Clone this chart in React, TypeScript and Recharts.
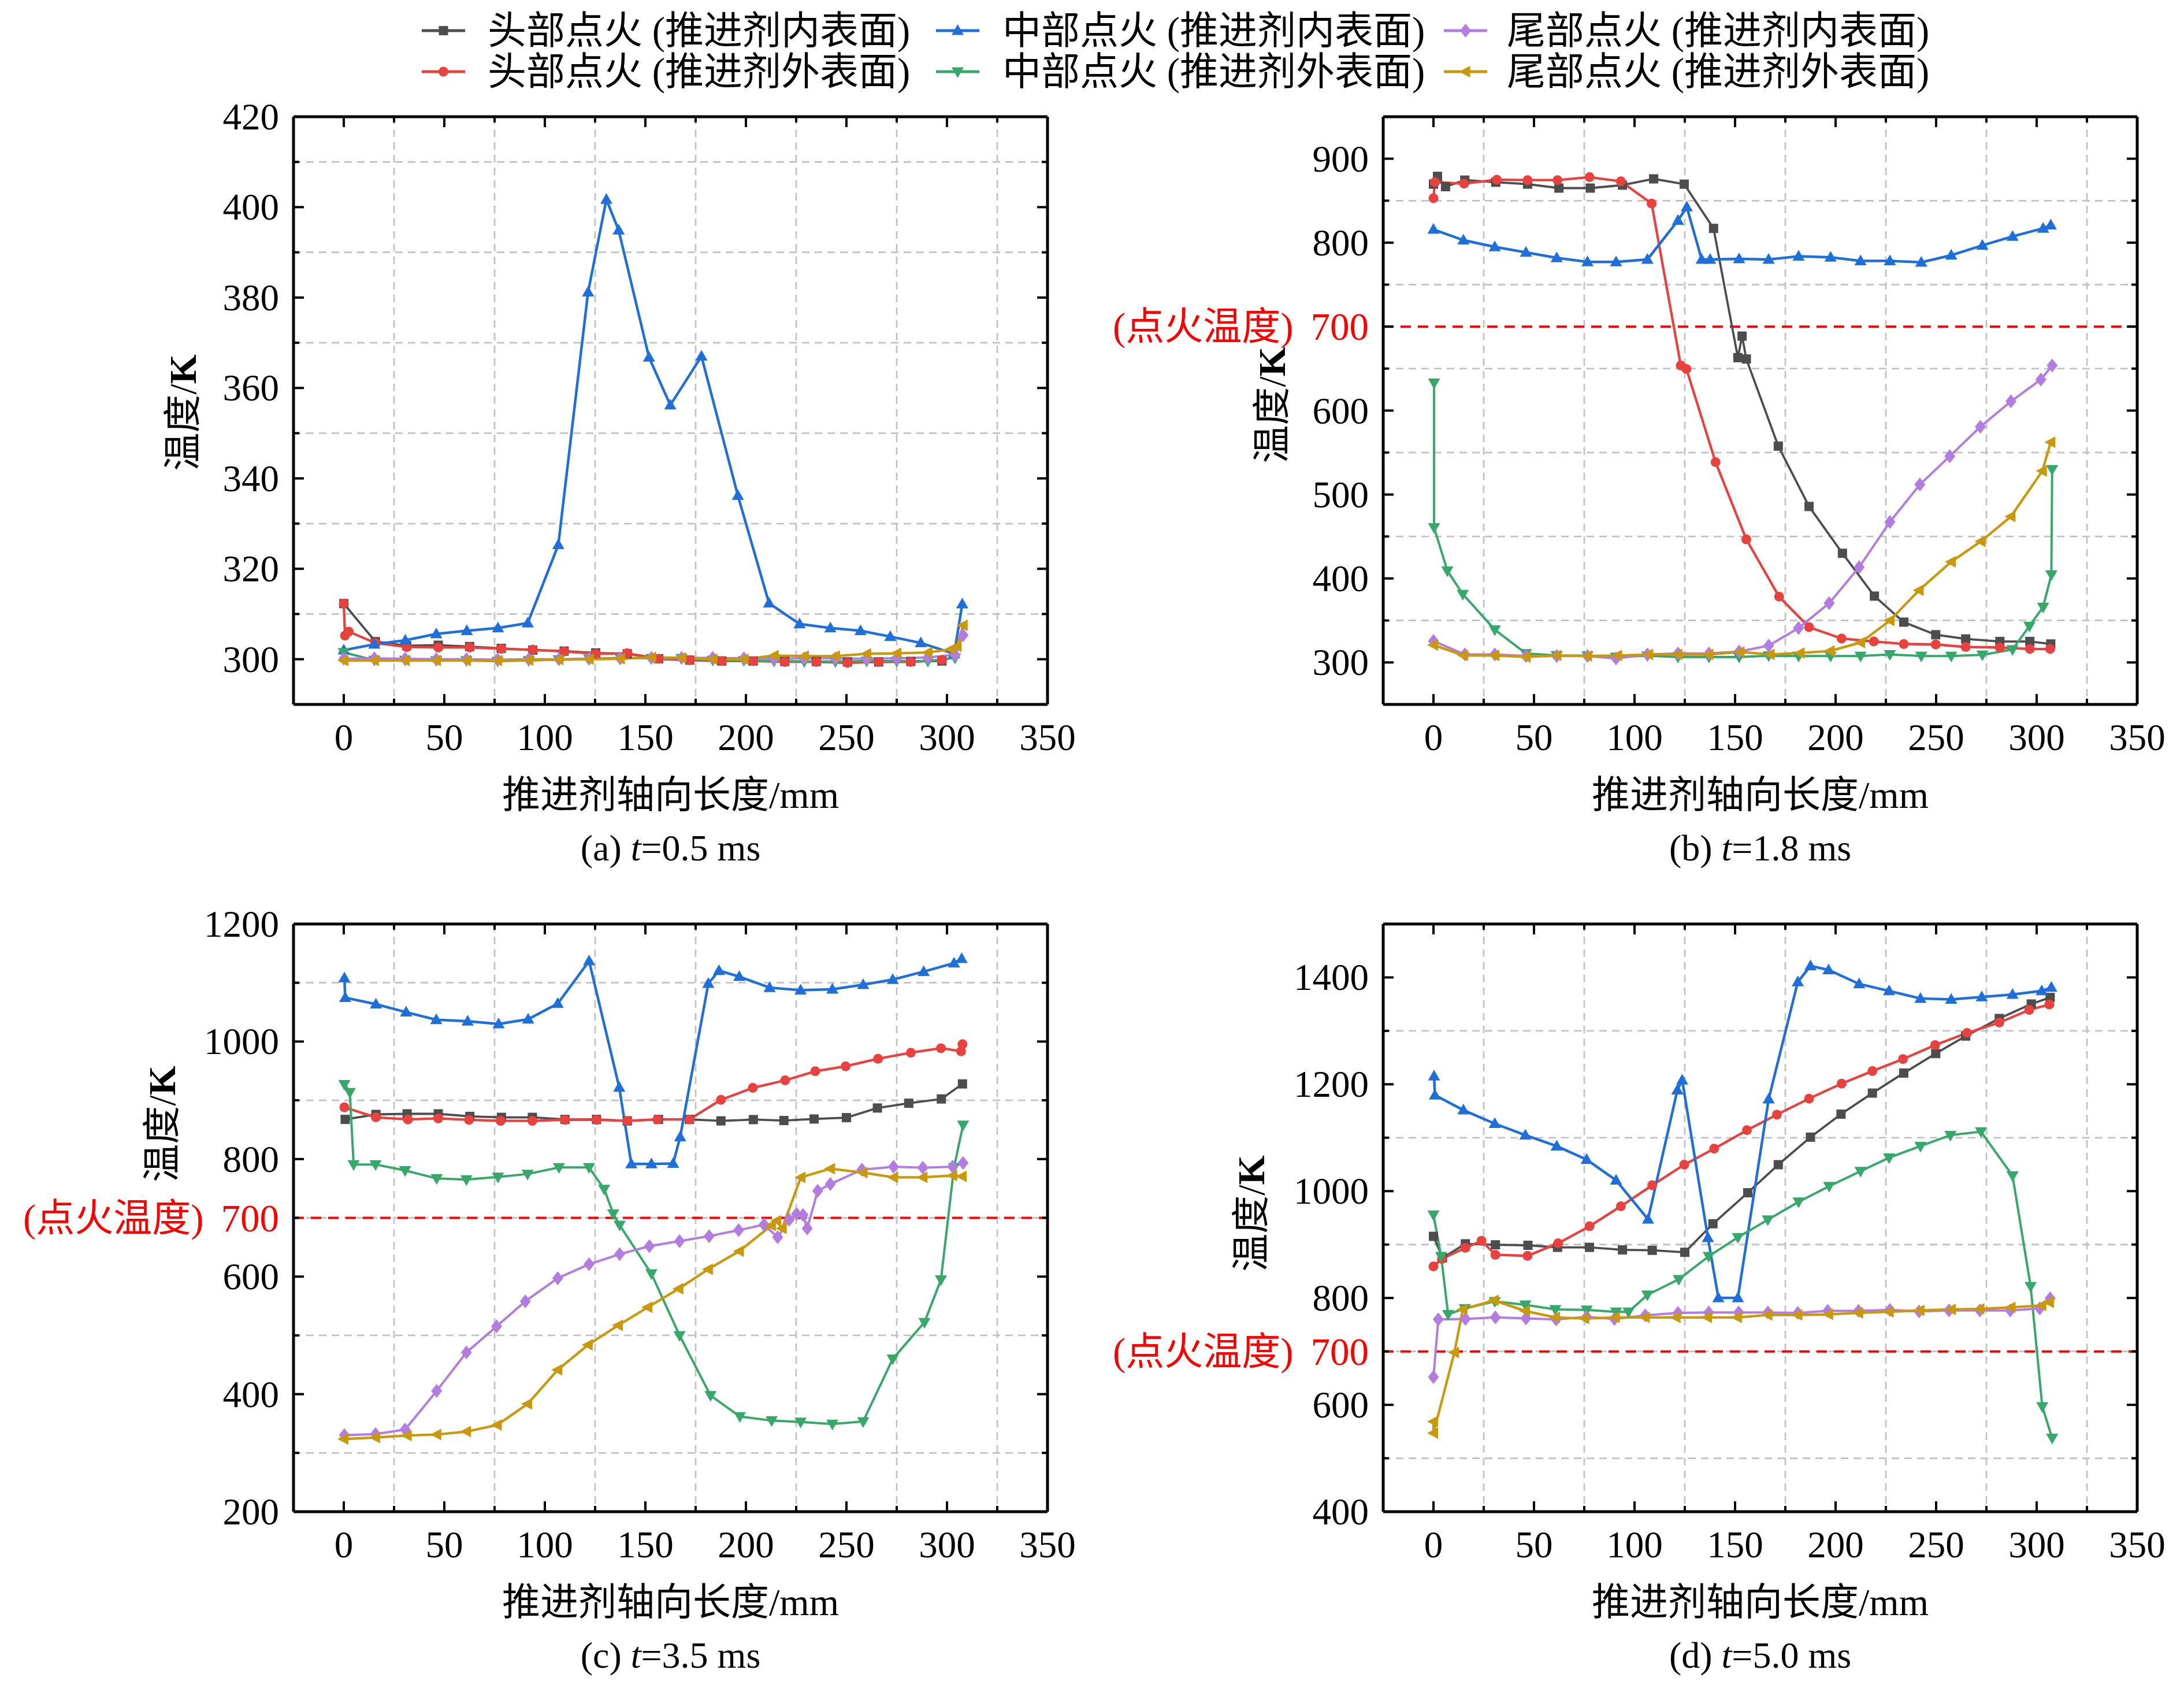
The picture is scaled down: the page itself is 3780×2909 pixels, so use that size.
import React from 'react';
import { LineChart, Line, XAxis, YAxis, CartesianGrid, ReferenceLine } from 'recharts';

type Pt = [number, number];

// ---------- shared axis values ----------
const xLabels = [0, 50, 100, 150, 200, 250, 300, 350];
const xMinor = [25, 75, 125, 175, 225, 275, 325];

const seriesNames = [
  '头部点火 (推进剂内表面)',
  '头部点火 (推进剂外表面)',
  '中部点火 (推进剂内表面)',
  '中部点火 (推进剂外表面)',
  '尾部点火 (推进剂内表面)',
  '尾部点火 (推进剂外表面)',
];
const seriesColors = ['#4d4d4d', '#e8413e', '#1f6fdb', '#36a96a', '#b27ce0', '#c9980b'];
const seriesShapes = ['square', 'circle', 'triUp', 'triDown', 'diamond', 'triLeft'];
const seriesWidths = [3.8, 4.3, 4.5, 4, 4, 4.3];

// ---------- panel (a) t=0.5 ms ----------
const aYLabels = [300, 320, 340, 360, 380, 400, 420];
const aYMinor = [310, 330, 350, 370, 390, 410];
const aHeadIn: Pt[] = [[0,312.3],[15.7,303.9],[31.3,303],[47,303.1],[62.6,302.8],[78.3,302.4],[94,302],[109.6,301.8],[125.3,301.4],[141,301.2],[156.6,300.1],[172,299.8],[188,299.6],[203.6,299.6],[219.3,299.5],[235,299.5],[250.5,299.4],[266,299.4],[282,299.5],[297.5,299.6]];
const aHeadOut: Pt[] = [[0,312.3],[0.6,305.2],[2.5,306.1],[15.7,303.6],[31.3,302.7],[47,302.6],[62.6,302.6],[78.3,302.3],[94,302.1],[109.6,301.7],[125.3,301.2],[141,301.3],[156.6,300.1],[172,299.8],[188,299.6],[203.6,299.6],[219.3,299.4],[235,299.4],[250.5,299.2],[266,299.4],[282,299.4],[297.5,299.8]];
const aMidIn: Pt[] = [[0,302],[15.2,303.3],[30.6,304.2],[46,305.6],[61.2,306.3],[76.7,306.9],[91.5,308],[106.7,325.3],[121.5,381.2],[130.6,401.7],[136.7,394.9],[151.8,366.8],[162.4,356.2],[177.9,367],[196,336.2],[211.5,312.4],[226.7,307.8],[242,306.9],[257,306.3],[271.8,305],[287,303.6],[303.6,301.2],[307.6,312.2]];
const aMidOut: Pt[] = [[0,301.5],[15.2,299.8],[30.5,299.8],[46,299.7],[61,299.7],[76.5,299.6],[92,299.7],[107,299.9],[122,300.1],[137.5,300.3],[153,300.2],[168,300.2],[183.5,299.8],[199,299.7],[214,299.6],[229,299.5],[244.5,299.5],[260,299.6],[275,299.6],[290.5,299.6],[304,300.3]];
const aTailIn: Pt[] = [[0,300.1],[15.2,300.2],[30.5,300.1],[46,300],[61,300],[76.5,299.9],[92,300],[107,300],[122,300.1],[137.5,300.2],[153,300.3],[168,300.3],[183.5,300.3],[199,300.2],[214,300.1],[229,300.2],[244.5,300.2],[260,300.1],[275,300.2],[290.5,300.4],[304,301],[308,305.3]];
const aTailOut: Pt[] = [[0,299.7],[15.2,299.7],[30.5,299.7],[46,299.7],[61,299.7],[76.5,299.7],[92,299.8],[107,299.9],[122,300],[137.5,300.1],[153,300.4],[168,300.3],[183.5,300],[199,300],[214,300.8],[229,300.7],[244.5,300.7],[260,301.2],[275,301.3],[290.5,301.5],[302,302.2],[305,302.8],[308,307.5]];

// ---------- panel (b) t=1.8 ms ----------
const bYLabels = [300, 400, 500, 600, 700, 800, 900];
const bYMinor = [350, 450, 550, 650, 750, 850];
const bHeadIn: Pt[] = [[0,869.7],[2,879],[6,866.7],[15.6,874.5],[31,872],[46.8,869.7],[62.4,865],[78,865],[94,868.5],[109.5,876],[124.7,869.7],[139.3,817],[151.4,663],[153.5,688.7],[155.6,661.4],[171.5,557.6],[186.8,485.8],[203.4,430],[219.3,379],[233.9,348],[249.8,333],[264.7,328],[281.7,325],[296.6,325],[307,322]];
const bHeadOut: Pt[] = [[0,853],[0.7,872],[15.2,870.3],[31.5,875],[46.8,874.5],[61.7,874.5],[77.6,878],[93.2,873],[108.5,846.6],[123,653.7],[125.8,649.6],[140.3,538.6],[155.6,446.6],[171.9,378.3],[186.8,342],[203,328.5],[219,325],[233.9,322],[249.8,321.4],[264.7,318.4],[281.7,317.8],[296.6,316],[306.7,316]];
const bMidIn: Pt[] = [[0,815.7],[14.9,803],[30.5,795],[46,788.4],[61.3,781.9],[76.6,777],[90.8,777],[106.4,780],[121.6,826.4],[126,842.4],[133.4,780],[137.6,780],[152,780.7],[166.7,780],[181.6,783.7],[197.5,782.5],[212.4,778.3],[227,778.3],[242.6,776.6],[257.5,785],[273,796.7],[288,807.4],[303.2,817],[307,821]];
const bMidOut: Pt[] = [[0.3,633],[0.3,460.8],[6.9,409.2],[14.6,381.3],[30.5,339],[46,310.7],[61.3,308.3],[76.6,308],[90.8,306.5],[106.4,308],[121.6,306.5],[137,306.5],[152,306.5],[166.7,308],[181.6,307.7],[197.5,307.7],[212.4,307.7],[227,309.5],[242.6,307.7],[257.5,307.7],[273,309],[288,315.4],[296.4,343.3],[303.2,366],[307.3,404.5],[307.7,530]];
const bTailIn: Pt[] = [[0,325.5],[15.6,309.5],[30.5,309.5],[46,307.7],[61.3,307.7],[76.6,307.7],[90.8,304.7],[106.4,309.5],[121.6,310.7],[137,310.7],[152,313],[166.7,320],[181.6,341],[196.8,370.6],[211.7,413.4],[227,467.4],[241.9,511.9],[256.8,545.7],[272,580.7],[287.2,611],[302.1,637],[307.7,653.7]];
const bTailOut: Pt[] = [[0,320.8],[14.9,308.3],[30.5,308.3],[46,306.5],[61.3,308.3],[76.6,307.7],[91.5,308.3],[107,309.5],[121.6,309.5],[136.9,309.5],[152.4,312.5],[167.4,309.5],[182.3,311.3],[197.2,313.6],[212.4,323.7],[227,349.9],[241.5,386],[257.5,419.9],[272.3,444.2],[287.2,473.9],[302.8,528],[307,562.3]];

// ---------- panel (c) t=3.5 ms ----------
const cYLabels = [200, 400, 600, 700, 800, 1000, 1200];
const cYMajor = [200, 400, 600, 800, 1000, 1200];
const cYMinor = [300, 500, 700, 900, 1100];
const cHeadIn: Pt[] = [[0.7,867.5],[16,876],[31.5,877],[47,877],[62.7,872.6],[78.4,871],[93.8,871],[110,867.5],[125.7,867.5],[141,865],[156.5,867.5],[171.9,867.5],[187.6,865],[203.7,867.2],[218.9,865.6],[233.9,868.2],[250,870.5],[265.4,886.9],[281,895],[297.2,902.3],[307.7,927.9]];
const cHeadOut: Pt[] = [[0.3,888],[16,871],[31.9,867.5],[47,869.2],[62.3,866.7],[78,865],[93.8,865],[110,866.7],[125.7,866.7],[141,865],[156,867.5],[171.9,867.5],[187.6,900.8],[203.4,921.2],[219.5,934],[234.5,949.4],[249.6,957.9],[265.7,970.7],[282,981],[297,988.6],[307,983.5],[307.7,995.4]];
const cMidIn: Pt[] = [[0.3,1108],[0.7,1074.7],[16,1063.6],[31,1050],[46,1037],[61.6,1034.6],[77,1030],[91.7,1038],[106.4,1064.5],[122,1137],[137,922],[143,791.6],[153,791.6],[163.8,792.5],[167.3,837.7],[181.3,1098.6],[186.6,1120.7],[196.7,1110.5],[211.8,1091.7],[227.2,1087.5],[243,1089],[258.3,1096.8],[273,1105.4],[288.4,1119],[303.5,1133.5],[307.3,1141]];
const cMidOut: Pt[] = [[0.3,927.2],[3,913.6],[4.9,790.8],[15.8,790.8],[30.5,780.6],[46.2,767],[61,765.2],[76.7,769.5],[91.4,774.6],[107,785.7],[122,785.7],[129.5,749],[134,707.2],[137.2,687.6],[153,605],[167,500],[182.4,397.8],[197,362],[212.8,355],[227.2,352.6],[243,349.2],[258.3,353.5],[273,460],[288.8,522.2],[297,594.7],[303.5,785.7],[308,858]];
const cTailIn: Pt[] = [[0.3,330.4],[15.8,332],[30.5,339.8],[46.2,405.5],[61,471],[76,515.4],[90.3,558],[106.4,597.3],[122,621],[137.2,638.2],[152,651.8],[167,660.4],[181.7,668.9],[196.4,679],[209,688.5],[215.8,667],[221.5,696.7],[225.2,706.6],[228.4,705],[230.5,682],[235.7,745.9],[242,757.4],[257.7,782],[273.4,786.9],[288,785.2],[302.8,786.9],[308,793.4]];
const cTailOut: Pt[] = [[0,323.6],[15.8,326.2],[31.5,329.6],[46.2,331.3],[61,336.4],[76.3,347.5],[91.4,383.3],[106.4,441.3],[121.5,483.9],[136.5,517.1],[151.2,547.8],[166.6,579.4],[181.3,612.6],[196.7,643.3],[212.6,686.9],[215.3,695],[218,682],[227.3,768.9],[242,783.6],[258.2,777],[273.4,768.9],[288,768.9],[302.8,772],[307.5,770.5]];

// ---------- panel (d) t=5.0 ms ----------
const dYLabels = [400, 600, 700, 800, 1000, 1200, 1400];
const dYMajor = [400, 600, 800, 1000, 1200, 1400];
const dYMinor = [500, 700, 900, 1100, 1300];
const dHeadIn: Pt[] = [[0,915.4],[4.5,875.1],[15.9,901.4],[30.8,899.5],[47,898.6],[61.7,894.8],[77.6,894.8],[94,890.1],[108.8,889.2],[125,885.5],[139,938.9],[156.3,997],[171.5,1049.5],[187.5,1101],[202.7,1144.1],[218.3,1183.5],[233.9,1221],[249.8,1257.5],[264.7,1290.3],[281.4,1323.1],[297.3,1350.3],[306.7,1362.5]];
const dHeadOut: Pt[] = [[0,859.2],[4.2,873.3],[15.9,893.9],[23.9,907],[30.8,880.8],[46.8,878.9],[62,902.3],[77.6,934.2],[93.2,971.7],[108.8,1011],[124.7,1049.5],[139.6,1079.5],[155.9,1114.1],[170.8,1143.2],[186.8,1173.2],[203,1201.3],[218.3,1224.7],[233.5,1247.2],[249.5,1273.5],[265.4,1296],[281.4,1315.6],[296.3,1339.1],[306.3,1349.4]];
const dMidIn: Pt[] = [[0.3,1215.3],[0.7,1179.7],[14.9,1151.6],[30.5,1126.3],[45.7,1104.8],[61.3,1084.2],[76.2,1058.9],[90.8,1020.4],[106.7,947.3],[121.3,1189],[123.7,1207.8],[136.5,912.6],[141.7,800.2],[151.4,800.2],[166.7,1172.2],[181.2,1391.5],[187.5,1421.5],[196.5,1414],[211.7,1387.8],[226.6,1374.7],[242.2,1360.6],[257.5,1358.8],[272.7,1363.4],[288,1368.1],[302.5,1374.7],[307.3,1381.2]];
const dMidOut: Pt[] = [[0,955.8],[3.8,878],[7.3,769.3],[15.6,780.5],[30.5,793.6],[45.7,787.1],[60.6,778.6],[76.2,777.7],[90.8,774],[97,774],[106.4,805.8],[122,834.9],[136.9,878],[151.4,913.6],[166.3,946.4],[181.6,980.1],[196.8,1009.2],[212.4,1037.3],[226.6,1062.6],[242.2,1084.2],[257.1,1104.8],[272.3,1111.3],[288,1028.9],[297,821.7],[302.8,596.8],[307.7,537.8]];
const dTailIn: Pt[] = [[0,652.1],[2.4,759.9],[15.9,760.8],[30.8,763.6],[46,761.7],[61,759.9],[76.2,764.6],[90,760.8],[105.3,767.4],[121.6,772.1],[136.9,773],[151.8,773],[166.3,773],[181.2,772.1],[196.1,775.8],[211.4,775.8],[227,777.7],[241.5,774.9],[256.4,776.8],[271.7,776.8],[286.9,776.8],[301.5,780.5],[306.7,799.3]];
const dTailOut: Pt[] = [[0,568.7],[0,547.1],[10.4,698],[14.6,778.6],[30.1,795.5],[45.7,775.8],[60.6,763.6],[75.2,761.7],[90.4,763.6],[105.3,763.6],[120.6,763.6],[136.2,763.6],[151.1,763.6],[166.3,768.3],[181.2,768.3],[196.5,769.3],[211.4,772.1],[226.6,774],[241.9,776.8],[257.5,778.6],[271.7,779.6],[287.2,782.4],[302.5,786.1],[306.3,791.7]];

const FONT = "'Liberation Serif', 'Times New Roman', serif";
const CJK = "'Liberation Serif', 'Noto Sans CJK SC', serif";

const panels = [
  { tag: 'a', t: '0.5', L: 508, T: 202, yDomain: [290, 420], yLabels: aYLabels, yMajor: aYLabels, yMinor: aYMinor, yGrid: aYMinor, fire: false, series: [aHeadIn, aHeadOut, aMidIn, aMidOut, aTailIn, aTailOut], yt: [316, 714] },
  { tag: 'b', t: '1.8', L: 2394, T: 202, yDomain: [250, 950], yLabels: bYLabels, yMajor: bYLabels, yMinor: bYMinor, yGrid: bYMinor, fire: true, series: [bHeadIn, bHeadOut, bMidIn, bMidOut, bTailIn, bTailOut], yt: [2201, 701] },
  { tag: 'c', t: '3.5', L: 508, T: 1599, yDomain: [200, 1200], yLabels: cYLabels, yMajor: cYMajor, yMinor: cYMinor, yGrid: cYMinor, fire: true, series: [cHeadIn, cHeadOut, cMidIn, cMidOut, cTailIn, cTailOut], yt: [280, 1945] },
  { tag: 'd', t: '5.0', L: 2394, T: 1599, yDomain: [400, 1500], yLabels: dYLabels, yMajor: dYMajor, yMinor: dYMinor, yGrid: dYMinor, fire: true, series: [dHeadIn, dHeadOut, dMidIn, dMidOut, dTailIn, dTailOut], yt: [2165, 2100] },
];

const PW = 1305;
const PH = 1017;
const X_MARGIN = 57;
const Y_MARGIN = 25;
const MAJOR_LEN = 18;
const MINOR_LEN = 10;
const TICK_W = 4;

function polyPts(cx: number, cy: number, p: number[][]) {
  return p.map(([dx, dy]) => `${cx + dx},${cy + dy}`).join(' ');
}

function Marker({ shape, color, cx, cy }: { shape: string; color: string; cx: number; cy: number }) {
  switch (shape) {
    case 'square':
      return <rect x={cx - 8} y={cy - 8} width={16} height={16} fill={color} />;
    case 'circle':
      return <circle cx={cx} cy={cy} r={8.5} fill={color} />;
    case 'triUp':
      return <polygon points={polyPts(cx, cy, [[0, -11], [10.5, 7.5], [-10.5, 7.5]])} fill={color} />;
    case 'triDown':
      return <polygon points={polyPts(cx, cy, [[0, 11], [10.5, -7.5], [-10.5, -7.5]])} fill={color} />;
    case 'diamond':
      return <polygon points={polyPts(cx, cy, [[0, -12], [9.5, 0], [0, 12], [-9.5, 0]])} fill={color} />;
    default:
      return <polygon points={polyPts(cx, cy, [[-11, 0], [8, -10], [8, 10]])} fill={color} />;
  }
}

function makeDot(shape: string, color: string) {
  return (p: any) => {
    const { cx, cy, index } = p;
    if (cx == null || cy == null) return <g key={`e${index}`} />;
    return <Marker key={`m${index}`} shape={shape} color={color} cx={cx} cy={cy} />;
  };
}

// bottom axis tick: label (major only) plus inward tick marks on the bottom and top frame
function makeXTick(labels: number[]) {
  return (props: any) => {
    const { x, y, payload } = props;
    const v = payload.value;
    const major = labels.includes(v);
    const len = major ? MAJOR_LEN : MINOR_LEN;
    const B = y - X_MARGIN;
    const T = B - PH;
    return (
      <g>
        <line x1={x} y1={B} x2={x} y2={B - len} stroke="#000" strokeWidth={TICK_W} />
        <line x1={x} y1={T} x2={x} y2={T + len} stroke="#000" strokeWidth={TICK_W} />
        {major && (
          <text x={x} y={y} textAnchor="middle" dominantBaseline="central" fontSize={65} fontFamily={FONT} fill="#000">
            {v}
          </text>
        )}
      </g>
    );
  };
}

// left axis tick: label plus inward tick marks on the left and right frame
function makeYTick(labels: number[], major: number[]) {
  return (props: any) => {
    const { x, y, payload } = props;
    const v = payload.value;
    const isMajor = major.includes(v);
    const len = isMajor ? MAJOR_LEN : MINOR_LEN;
    const Lx = x + Y_MARGIN;
    const R = Lx + PW;
    let label: React.ReactNode = null;
    if (labels.includes(v)) {
      label =
        v === 700 ? (
          <text x={x} y={y} textAnchor="end" dominantBaseline="central" fontSize={67} fontFamily={CJK} fill="#ff0000">
            <tspan>(点火温度)</tspan>
            <tspan dx={30}>700</tspan>
          </text>
        ) : (
          <text x={x} y={y} textAnchor="end" dominantBaseline="central" fontSize={65} fontFamily={FONT} fill="#000">
            {v}
          </text>
        );
    }
    return (
      <g>
        <line x1={Lx} y1={y} x2={Lx + len} y2={y} stroke="#000" strokeWidth={TICK_W} />
        <line x1={R} y1={y} x2={R - len} y2={y} stroke="#000" strokeWidth={TICK_W} />
        {label}
      </g>
    );
  };
}

const toObj = (pts: Pt[]) => pts.map(([x, y]) => ({ x, y }));
const mergeTicks = (a: number[], b: number[]) => Array.from(new Set([...a, ...b])).sort((p, q) => p - q);

function Panel({ cfg }: { cfg: any }) {
  const padL = 500, padT = 60, padR = 60, padB = 110;
  const xC = { type: 'number' as const, domain: [-25, 350], allowDataOverflow: true, interval: 0 as const };
  const yC = { type: 'number' as const, domain: cfg.yDomain, allowDataOverflow: true, interval: 0 as const };
  const frame = { stroke: '#000', strokeWidth: 5 };
  const xTicks = mergeTicks(xLabels, xMinor);
  const yTicks = mergeTicks(cfg.yLabels, mergeTicks(cfg.yMajor, cfg.yMinor));
  return (
    <div style={{ position: 'absolute', left: cfg.L - padL, top: cfg.T - padT }}>
      <LineChart width={PW + padL + padR} height={PH + padT + padB} margin={{ top: padT, right: padR, bottom: 0, left: 0 }}>
        <CartesianGrid xAxisId="x" yAxisId="y" horizontalValues={cfg.yGrid} verticalValues={xMinor} stroke="#c2c2c2" strokeWidth={2.8} strokeDasharray="13 9" />
        <XAxis xAxisId="x" dataKey="x" {...xC} ticks={xTicks} height={padB} tickLine={false} tickSize={0} tickMargin={X_MARGIN} axisLine={frame} tick={makeXTick(xLabels)} />
        <XAxis xAxisId="xt" {...xC} ticks={xLabels} orientation="top" mirror height={1} tick={false} tickLine={false} axisLine={frame} />
        <YAxis yAxisId="y" {...yC} ticks={yTicks} width={padL} tickLine={false} tickSize={0} tickMargin={Y_MARGIN} axisLine={frame} tick={makeYTick(cfg.yLabels, cfg.yMajor)} />
        <YAxis yAxisId="yr" {...yC} ticks={cfg.yMajor} orientation="right" mirror width={1} tick={false} tickLine={false} axisLine={frame} />
        {cfg.fire && (
          <ReferenceLine xAxisId="x" yAxisId="y" y={700} stroke="#ff0000" strokeWidth={4} strokeDasharray="18 12" />
        )}
        {cfg.series.map((pts: Pt[], i: number) => (
          <Line
            key={i}
            xAxisId="x"
            yAxisId="y"
            data={toObj(pts)}
            dataKey="y"
            type="linear"
            stroke={seriesColors[i]}
            strokeWidth={seriesWidths[i]}
            dot={makeDot(seriesShapes[i], seriesColors[i])}
            activeDot={false}
            isAnimationActive={false}
          />
        ))}
      </LineChart>
    </div>
  );
}

const legendCols = [730, 1620, 2499];
const legendText = [844, 1735, 2608];
const legendRows = [53, 124];

export default function App() {
  return (
    <div style={{ position: 'absolute', left: 0, top: 0, width: 3780, height: 2909, background: '#fff', overflow: 'hidden' }}>
      {panels.map((p) => (
        <Panel key={p.tag} cfg={p} />
      ))}
      <svg width={3780} height={2909} style={{ position: 'absolute', left: 0, top: 0, pointerEvents: 'none' }}>
        {seriesNames.map((name, i) => {
          const col = Math.floor(i / 2);
          const row = i % 2;
          const x0 = legendCols[col];
          const y0 = legendRows[row];
          return (
            <g key={name}>
              <line x1={x0} y1={y0} x2={x0 + 75} y2={y0} stroke={seriesColors[i]} strokeWidth={5} />
              <Marker shape={seriesShapes[i]} color={seriesColors[i]} cx={x0 + 37.5} cy={y0} />
              <text x={legendText[col]} y={y0} dominantBaseline="central" fontSize={67} fontFamily={CJK} fill="#000">
                {name}
              </text>
            </g>
          );
        })}
        {panels.map((p) => {
          const cx = p.L + PW / 2;
          const B = p.T + PH;
          return (
            <g key={`t${p.tag}`}>
              <text
                x={p.yt[0]}
                y={p.yt[1]}
                transform={`rotate(-90 ${p.yt[0]} ${p.yt[1]})`}
                textAnchor="middle"
                dominantBaseline="central"
                fontSize={66}
                fontFamily={CJK}
                fill="#000"
              >
                温度/<tspan fontWeight="bold">K</tspan>
              </text>
              <text x={cx} y={B + 156} textAnchor="middle" dominantBaseline="central" fontSize={66} fontFamily={CJK} fill="#000">
                推进剂轴向长度/mm
              </text>
              <text x={cx} y={B + 248} textAnchor="middle" dominantBaseline="central" fontSize={64} fontFamily={FONT} fill="#000">
                ({p.tag}){' '}<tspan fontStyle="italic">t</tspan>={p.t} ms
              </text>
            </g>
          );
        })}
      </svg>
    </div>
  );
}
